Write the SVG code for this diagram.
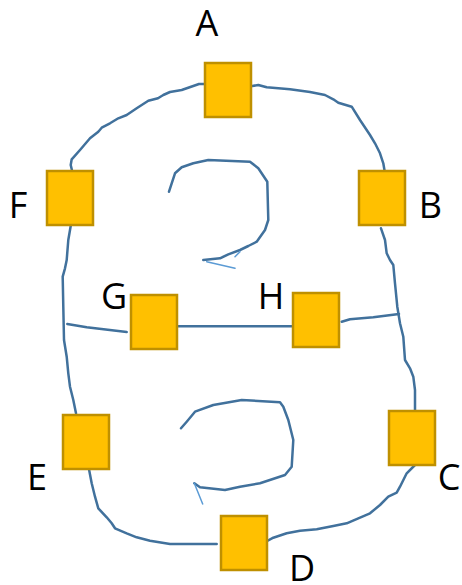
<svg xmlns="http://www.w3.org/2000/svg" width="462" height="585" viewBox="0 0 462 585">
<style>
.n{fill:#FFC000;stroke:#BF9000;stroke-width:2.5}
.c{fill:none;stroke:#41719C;stroke-width:2.5;stroke-linejoin:round;stroke-linecap:round}
.t{fill:none;stroke:#5B9BD5;stroke-width:1.5;stroke-linecap:round}
.l{font-family:"Open Sans","DejaVu Sans",sans-serif;font-size:36px;fill:#000;text-anchor:middle}
</style>
<rect width="462" height="585" fill="#fff"/>
<g id="connectors">
<polyline class="c" points="204.3,84 199,84 181.7,90 170,92 163.3,95 158,98.3 148.3,100.7 136.7,108.3 126.7,115 118.3,118.3 110,123.3 101.7,127.7 98.3,131.7 90,138.3 80,150 71.7,159.3 70.7,165 72.7,173.3"/>
<polyline class="c" points="252.3,86 258.3,85 266.7,87.3 290,89.3 310,92 325,95 333.3,99.3 338.3,102.7 351.7,106.7 360,120 370,135 375,143.3 380,153.3 383.3,163.3 385,173.3"/>
<polyline class="c" points="169,191.7 171.7,183.3 175,173.3 181.7,167.3 193.3,163.3 208.3,160 250,161.7 258.3,168.3 267.3,181.7 268.3,220 265,230 256.7,241.7 248.3,246 240,250 228.3,254.3 220,258.3 203.3,260"/>
<polyline class="t" points="206.7,261.7 235,268.3"/>
<polyline class="t" points="235,256.7 240,251.7"/>
<polyline class="c" points="70.7,226 68.3,240 66.7,260 65,268.3 62.7,276.7 63.3,306.7 64,340 66.7,356.7 68.3,373.3 70,386.7 73.3,400 76,413.3"/>
<polyline class="c" points="67.3,324 86.7,327.3 126.7,332"/>
<polyline class="c" points="173.3,326.3 292.3,326.3"/>
<polyline class="c" points="341.7,321.7 350,319.3 373.3,317.3 399,314"/>
<polyline class="c" points="381,228.3 385,240 386.7,253.3 390,260 393.3,265 395,283.3 397.3,306.7 400,323.3 403.3,336.7 405,360 410,368.3 413.3,376.7 415,390 415,410.7"/>
<polyline class="c" points="415,465 406.7,473.3 400,486.7 396.7,492.7 388.3,496.7 380,505 370,513.3 358.3,518.3 346.7,523.3 333.3,526 316.7,529.3 300,530.7 286.7,533.3 273.3,537.7 261.7,544"/>
<polyline class="c" points="89,469.3 91.7,483.3 95,496.7 98.3,508.3 106.7,517.3 111.7,523.3 115,528.3 126.7,533.3 136.7,537.3 150,540.7 170,544 216.7,544"/>
<polyline class="c" points="181,428.3 186.7,421.7 195,411.7 213.3,405 241.7,400 280,402.3 283.3,406.7 288.3,420 293.3,440 291.7,466.7 285,475 260,483.3 240,486.7 225,490 200,487.3 194.3,483.3"/>
<polyline class="t" points="194.3,483.3 202.7,504"/>
</g>
<g id="A"><rect class="n" x="205" y="63" width="46" height="54"/><text class="l" x="207" y="36">A</text></g>
<g id="B"><rect class="n" x="359" y="171" width="46" height="54"/><text class="l" x="430.5" y="218">B</text></g>
<g id="F"><rect class="n" x="47" y="171" width="46" height="54"/><text class="l" x="18" y="218">F</text></g>
<g id="G"><rect class="n" x="131" y="295" width="46" height="54"/><text class="l" x="114" y="309">G</text></g>
<g id="H"><rect class="n" x="293" y="293" width="46" height="54"/><text class="l" x="271" y="309">H</text></g>
<g id="E"><rect class="n" x="63" y="415" width="46" height="54"/><text class="l" x="37" y="490">E</text></g>
<g id="C"><rect class="n" x="389" y="411" width="46" height="54"/><text class="l" x="449" y="490">C</text></g>
<g id="D"><rect class="n" x="221" y="516" width="46" height="54"/><text class="l" x="302" y="581">D</text></g>
</svg>
